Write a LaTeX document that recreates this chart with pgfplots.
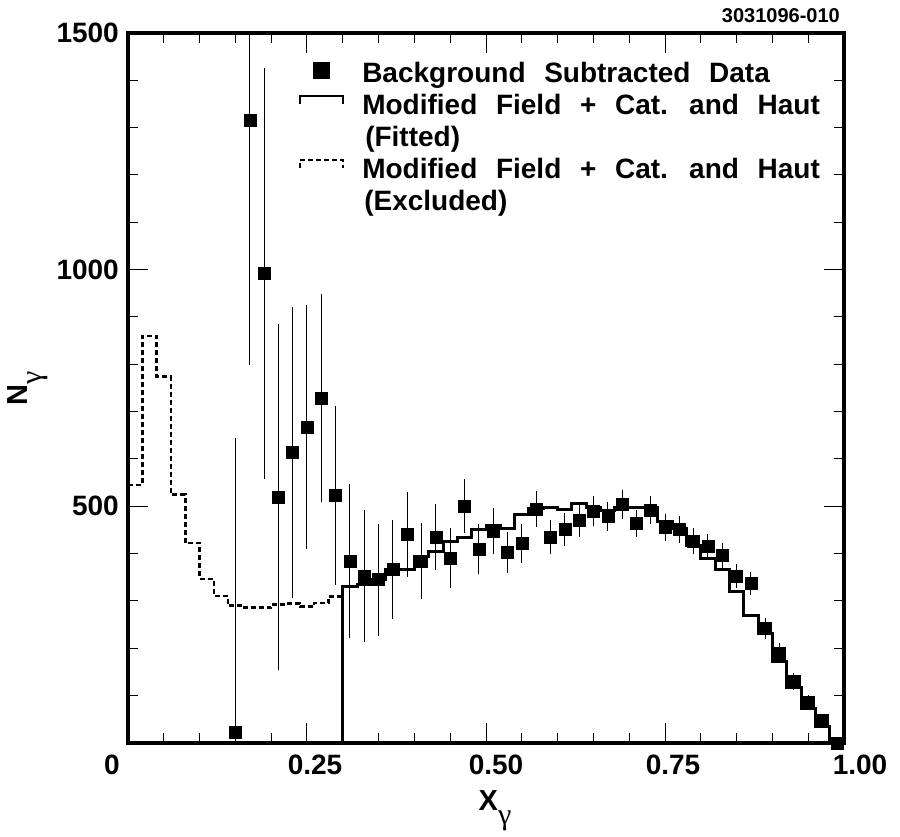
\documentclass[border=0pt]{standalone}
\usepackage{fontspec}
\setmainfont{Liberation Sans}
\newfontfamily\legfont[WordSpace=2.4]{Liberation Sans}
\newfontfamily\greekfont{Liberation Serif}
\usepackage{pgfplots}
\pgfplotsset{compat=1.18}
\newcommand{\gsub}{\raisebox{-14pt}{\greekfont\mdseries\upshape\fontsize{30}{30}\selectfont γ}}
\begin{document}
\begin{tikzpicture}
\useasboundingbox (-128pt,-94pt) rectangle (772pt,743pt);
\begin{axis}[
  name=ax, at={(0pt,0pt)}, anchor=south west,
  scale only axis, width=716pt, height=710pt,
  xmin=0, xmax=1, ymin=0, ymax=1500,
  xtick={0,0.25,0.5,0.75,1},
  xticklabels={\makebox[0pt]{\hspace*{-32pt}0},\makebox[0pt]{\hspace*{16pt}0.25},\makebox[0pt]{\hspace*{20pt}0.50},\makebox[0pt]{\hspace*{16pt}0.75},\makebox[0pt]{\hspace*{32pt}1.00}},
  ytick={0,500,1000,1500}, yticklabels={,500,1000,1500},
  minor x tick num=4, minor y tick num=4,
  major tick length=20pt, minor tick length=10pt,
  tick align=inside,
  every tick/.style={black, line width=1pt},
  axis line style={line width=4pt},
  tick label style={font=\bfseries\fontsize{28}{30}\selectfont, inner sep=0pt},
  xticklabel style={anchor=north, yshift=-12pt},
  yticklabel style={anchor=east, xshift=-9pt},
  xlabel={X\gsub},
  ylabel={N\gsub},
  xlabel style={at={(axis description cs:0.5126,-0.0662)}, anchor=north, inner sep=0pt, font=\bfseries\fontsize{29}{30}\selectfont},
  ylabel style={at={(axis description cs:-0.169,0.5)}, anchor=north, inner sep=0pt, font=\bfseries\fontsize{29}{30}\selectfont},
  legend cell align=left,
  legend style={at={(0.2385,0.9606)}, anchor=north west, draw=none, fill=none,
    inner sep=0pt, outer sep=0pt, row sep=0pt, column sep=18pt,
    font=\legfont\fontsize{28}{30}\bfseries\selectfont,
    nodes={inner sep=0pt, text height=22pt, text depth=10pt, anchor=base west},
    cells={anchor=base west}},
]
% excluded (dashed) histogram
\addplot[const plot mark left, black, line width=2.5pt, dash pattern=on 5pt off 3pt, forget plot] coordinates {
(0,545) (0.02,860) (0.04,774) (0.06,525) (0.08,422) (0.10,346) (0.12,311) (0.14,290)
(0.16,286) (0.18,286) (0.20,293) (0.22,295) (0.24,288) (0.26,296) (0.28,310) (0.30,310)};
% fitted (solid) histogram
\addplot[const plot mark left, black, line width=3pt, forget plot] coordinates {
(0.30,0) (0.30,330) (0.32,334) (0.34,346) (0.36,366) (0.38,367) (0.40,394) (0.42,404)
(0.44,425) (0.46,435) (0.48,451) (0.50,459) (0.52,453) (0.54,482) (0.56,496) (0.58,498)
(0.60,494) (0.62,506) (0.64,497) (0.66,492) (0.68,497) (0.70,497) (0.72,497) (0.74,468)
(0.76,454) (0.78,418) (0.80,390) (0.82,367) (0.84,321) (0.86,269) (0.88,232) (0.90,172)
(0.92,117) (0.94,73) (0.96,34) (0.98,0)};
% data
\addplot[only marks, mark=square*, mark size=6pt, black, forget plot,
  error bars/.cd, y dir=both, y explicit, error mark=none,
  error bar style={line width=1pt, black}] coordinates {
(0.15,22) +- (0,623)
(0.17,1316) +- (0,517)
(0.19,992) +- (0,435)
(0.21,520) +- (0,365)
(0.23,614) +- (0,308)
(0.25,667) +- (0,258)
(0.27,729) +- (0,220)
(0.29,523) +- (0,190)
(0.31,385) +- (0,163)
(0.33,353) +- (0,140)
(0.35,345) +- (0,118)
(0.37,367) +- (0,105)
(0.39,441) +- (0,90)
(0.41,385) +- (0,80)
(0.43,435) +- (0,70)
(0.45,391) +- (0,63)
(0.47,501) +- (0,57)
(0.49,409) +- (0,53)
(0.51,448) +- (0,48)
(0.53,403) +- (0,43)
(0.55,422) +- (0,41)
(0.57,494) +- (0,38)
(0.59,435) +- (0,36)
(0.61,451) +- (0,34)
(0.63,470) +- (0,34)
(0.65,490) +- (0,31)
(0.67,479) +- (0,31)
(0.69,504) +- (0,31)
(0.71,464) +- (0,29)
(0.73,492) +- (0,29)
(0.75,455) +- (0,28)
(0.77,451) +- (0,29)
(0.79,427) +- (0,27)
(0.81,416) +- (0,26)
(0.83,396) +- (0,26)
(0.85,353) +- (0,25)
(0.87,337) +- (0,24)
(0.89,242) +- (0,23)
(0.91,190) +- (0,22)
(0.93,130) +- (0,17)
(0.95,86) +- (0,15)
(0.97,49) +- (0,13)
(0.99,0) +- (0,5)
};
\addlegendimage{legend image code/.code={\fill[black] (13.5pt,4.5pt) rectangle (29.5pt,20.5pt);}}
\addlegendentry{Background Subtracted Data}
\addlegendimage{legend image code/.code={\draw[black, line width=2.5pt] (0pt,11pt) -- (0pt,19pt) -- (43pt,19pt) -- (43pt,11pt);}}
\addlegendentry{Modified Field + Cat. and Haut}
\addlegendimage{empty legend}
\addlegendentry{\hspace*{3pt}(Fitted)}
\addlegendimage{legend image code/.code={\draw[black, line width=2.5pt, dash pattern=on 5pt off 3pt] (0pt,11pt) -- (0pt,19pt) -- (43pt,19pt) -- (43pt,11pt);}}
\addlegendentry{Modified Field + Cat. and Haut}
\addlegendimage{empty legend}
\addlegendentry{\hspace*{2pt}(Excluded)}
\end{axis}
\node[anchor=base east, inner sep=0pt, font=\bfseries\fontsize{20}{22}\selectfont] at (712pt,720pt) {3031096-010};
\end{tikzpicture}
\end{document}
